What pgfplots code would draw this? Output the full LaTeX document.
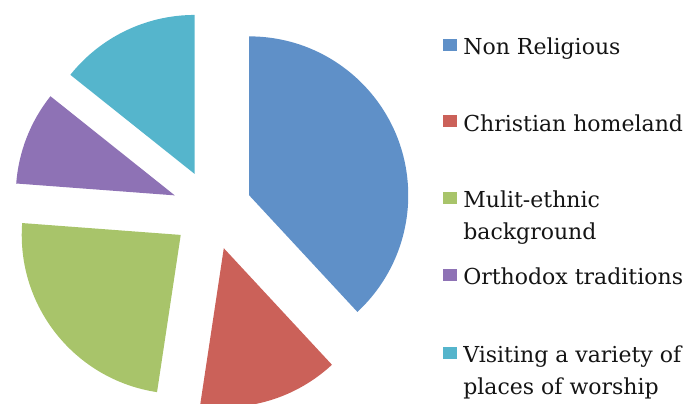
\documentclass[border=0pt]{standalone}
\usepackage{fontspec}
\setmainfont{DejaVu Serif}
\usepackage{pgfplots}
\pgfplotsset{compat=1.18}
\definecolor{cNR}{HTML}{5F90C8}
\definecolor{cCH}{HTML}{CB6159}
\definecolor{cME}{HTML}{A8C46A}
\definecolor{cOT}{HTML}{8E72B5}
\definecolor{cVI}{HTML}{55B5CC}
\begin{document}
\begin{tikzpicture}
\useasboundingbox (0,0) rectangle (412.2pt,242.4pt);
\clip (0,0) rectangle (412.2pt,242.4pt);
\begin{axis}[x=0.6pt, y=0.6pt, xmin=0, xmax=687, ymin=0, ymax=404,
  hide axis, clip=false, at={(0,0)}, anchor=origin]
\pgfplotsextra{%
  \gdef\cumul{0}%
  \foreach \v/\col in {8/cNR,3/cCH,5/cME,2/cOT,3/cVI}{%
    \pgfmathsetmacro\sa{90-\cumul*360/21}%
    \pgfmathsetmacro\ea{90-(\cumul+\v)*360/21}%
    \pgfmathsetmacro\ma{(\sa+\ea)/2}%
    \pgfmathsetmacro\px{212+40*cos(\ma)}%
    \pgfmathsetmacro\py{194+40*sin(\ma)}%
    \fill[\col] (axis cs:\px,\py) -- ++(\sa:95.4pt) arc[start angle=\sa, end angle=\ea, radius=95.4pt] -- cycle;%
    \pgfmathsetmacro\newc{\cumul+\v}%
    \xdef\cumul{\newc}%
  }%
}
\pgfplotsextra{%
  \foreach \col/\y in {cNR/39,cCH/115,cME/192,cOT/269,cVI/347}{%
    \fill[\col] (axis cs:443,404-\y) rectangle (axis cs:457,404-\y-12);%
  }%
  \foreach \t/\y in {Non Religious/55,Christian homeland/132,Mulit-ethnic/208,background/240,Orthodox traditions/285,Visiting a variety of/363,places of worship/395}{%
    \node[anchor=base west, inner sep=0pt, text=black!92, font=\fontsize{13.2}{16}\selectfont] at (axis cs:463,404-\y) {\t};%
  }%
}
\end{axis}
\end{tikzpicture}
\end{document}
